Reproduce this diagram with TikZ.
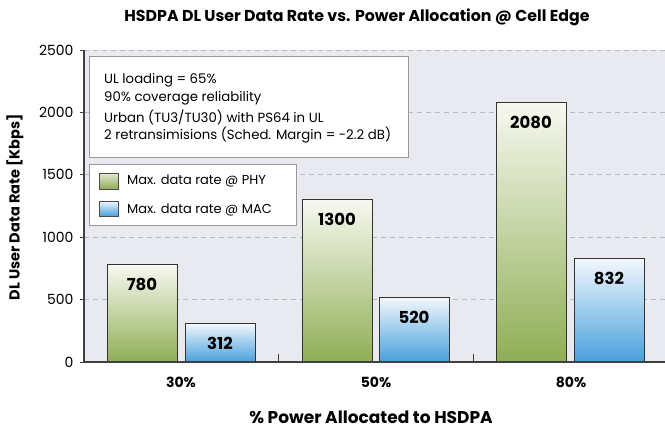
\documentclass[tikz,border=0pt]{standalone}
\usepackage{fontspec}
\setmainfont{Poppins}
\begin{document}
\begin{tikzpicture}[x=1pt,y=-1pt,
  axisline/.style={draw=black!75,line width=1.2pt},
  grid/.style={draw=gridcol,dash pattern=on 5pt off 4pt,line width=0.8pt},
  greenbar/.style={draw=black!80,line width=0.8pt,top color=greentop,bottom color=greenbot},
  bluebar/.style={draw=black!80,line width=0.8pt,top color=bluetop,bottom color=bluebot},
  barlabel/.style={font=\fontsize{16.5}{18}\selectfont\bfseries,anchor=center},
  ticklabel/.style={font=\fontsize{14}{16}\selectfont,anchor=east},
  catlabel/.style={font=\fontsize{14}{16}\selectfont\bfseries,anchor=center},
  infobox/.style={draw=black!40,fill=white,line width=0.8pt},
  infotext/.style={font=\fontsize{13.3}{15}\selectfont,anchor=west,inner sep=0pt},
  legtext/.style={font=\fontsize{13}{15}\selectfont,anchor=west,inner sep=0pt}
]
\definecolor{plotbg}{HTML}{E9EAEF}
\definecolor{gridcol}{HTML}{B5BACB}
\definecolor{greentop}{HTML}{F7F8F0}
\definecolor{greenbot}{HTML}{8FAE55}
\definecolor{bluetop}{HTML}{F3F8FD}
\definecolor{bluebot}{HTML}{47A0DC}
\useasboundingbox (0,0) rectangle (665,429);
\fill[white] (0,0) rectangle (665,429);
% plot area
\fill[plotbg] (84,50) rectangle (665,362);
% gridlines
\foreach \v in {500,1000,1500,2000,2500}{
  \draw[grid] (84,{362-0.1248*\v}) -- (665,{362-0.1248*\v});
}
% tick labels
\foreach \v in {0,500,1000,1500,2000,2500}{
  \node[ticklabel] (t\v) at (77,{362-0.1248*\v}) {\v};
  \draw[black!75,line width=0.8pt] (80,{362-0.1248*\v}) -- (84,{362-0.1248*\v});
}
% info box
\draw[infobox] (89,56) rectangle (408,157);
\node[infotext] (i1) at (104,80) {UL loading = 65\%};
\node[infotext] (i2) at (104,98.5) {90\% coverage reliability};
\node[infotext] (i3) at (104,117) {Urban (TU3/TU30) with PS64 in UL};
\node[infotext] (i4) at (104,135.5) {2 retransimisions (Sched. Margin = -2.2 dB)};
% legend
\draw[infobox] (89,164) rectangle (296,225);
\shade[draw=black!70,line width=0.6pt,top color=greentop!80!greenbot,bottom color=greenbot] (99,173) rectangle (118,189);
\shade[draw=black!70,line width=0.6pt,top color=bluetop,bottom color=bluebot] (99,201) rectangle (118,216);
\node[legtext] (l1) at (127,181) {Max. data rate @ PHY};
\node[legtext] (l2) at (127,209.5) {Max. data rate @ MAC};
% bars
\shade[greenbar] (107,362) rectangle (177,{362-0.1248*780});
\shade[bluebar] (185,362) rectangle (255,{362-0.1248*312});
\shade[greenbar] (302,362) rectangle (372,{362-0.1248*1300});
\shade[bluebar] (379,362) rectangle (449,{362-0.1248*520});
\shade[greenbar] (496,362) rectangle (566,{362-0.1248*2080});
\shade[bluebar] (574,362) rectangle (644,{362-0.1248*832});
\node[barlabel] (b1) at (142,{362-0.1248*780+20}) {780};
\node[barlabel] (b2) at (220,{362-0.1248*312+20}) {312};
\node[barlabel] (b3) at (337,{362-0.1248*1300+20}) {1300};
\node[barlabel] (b4) at (414,{362-0.1248*520+20}) {520};
\node[barlabel] (b5) at (531,{362-0.1248*2080+20}) {2080};
\node[barlabel] (b6) at (609,{362-0.1248*832+20}) {832};
% axes
\draw[axisline] (84,50) -- (84,362) -- (665,362);
\draw[black!75,line width=0.8pt] (278,362) -- (278,354);
\draw[black!75,line width=0.8pt] (473,362) -- (473,354);
% category labels
\node[catlabel] (c1) at (181,382) {30\%};
\node[catlabel] (c2) at (376,382) {50\%};
\node[catlabel] (c3) at (571,382) {80\%};
% axis titles
\node[font=\fontsize{17}{19}\selectfont\bfseries] (xt) at (371,417) {\% Power Allocated to HSDPA};
\node[font=\fontsize{14.5}{16}\selectfont\bfseries,rotate=90] (yt) at (15,207) {DL User Data Rate [Kbps]};
\node[font=\fontsize{15.8}{18}\selectfont\bfseries] (title) at (357,17) {HSDPA DL User Data Rate vs. Power Allocation @ Cell Edge};
\end{tikzpicture}
\end{document}
